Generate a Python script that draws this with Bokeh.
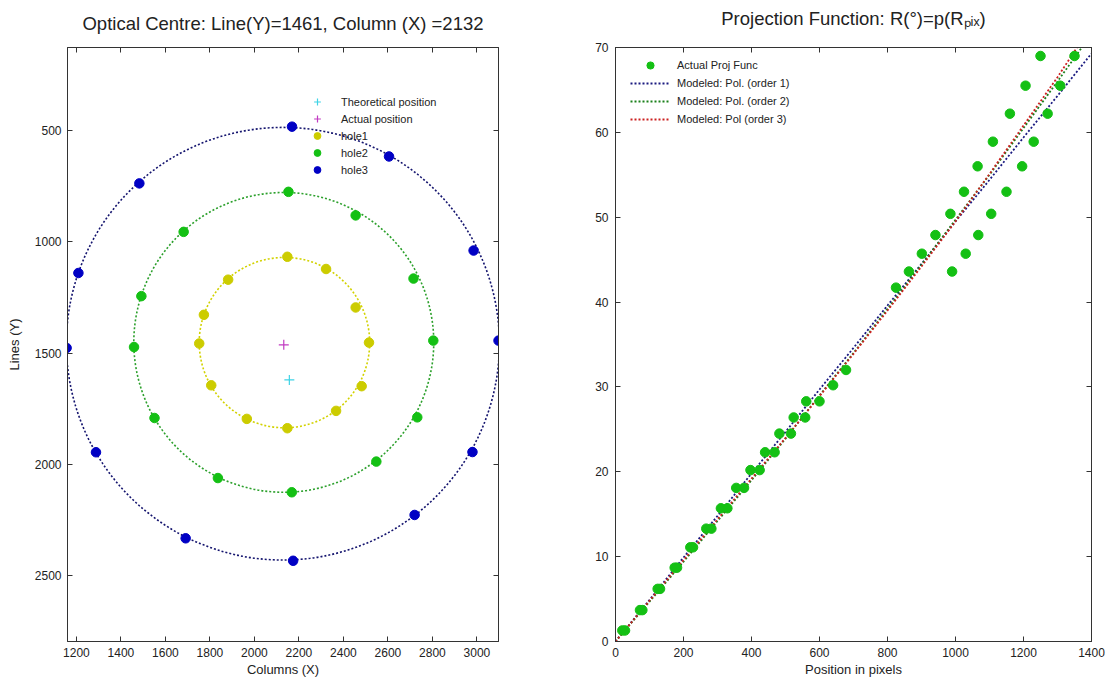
from bokeh.plotting import figure
from bokeh.models import Range1d, LinearAxis, Legend, LegendItem, FixedTicker
from bokeh.layouts import row
from bokeh.embed import file_html
from bokeh.resources import INLINE

FONT = "Liberation Sans"
AX = "#333333"
TXT = "#222222"

# ---------------- left chart data ----------------
left_title = "Optical Centre: Line(Y)=1461, Column (X) =2132"
theo_x = [2157]
theo_y = [1621]
act_x = [2132]
act_y = [1463]
hole1_x = [2148, 2322, 2455, 2515, 2482, 2367, 2148, 1966, 1806, 1752, 1773, 1882]
hole1_y = [1067, 1122, 1295, 1453, 1649, 1760, 1838, 1796, 1645, 1457, 1328, 1170]
hole2_x = [2153, 2455, 2715, 2804, 2732, 2548, 2168, 1836, 1551, 1459, 1492, 1682]
hole2_y = [775, 881, 1165, 1444, 1789, 1988, 2126, 2062, 1792, 1473, 1244, 955]
hole3_x = [2169, 2605, 2985, 3097, 2980, 2720, 2174, 1691, 1288, 1156, 1209, 1483]
hole3_y = [482, 616, 1039, 1444, 1945, 2228, 2434, 2333, 1946, 1477, 1140, 737]
ring_cx = [2135, 2132, 2128]
ring_cy = [1453, 1452, 1458]
ring_r = [383, 674, 973]
left_x_ticks = [1200, 1400, 1600, 1800, 2000, 2200, 2400, 2600, 2800, 3000]
left_y_ticks = [500, 1000, 1500, 2000, 2500]

# ---------------- right chart data ----------------
right_title = "Projection Function: R(\u00b0)=p(R\u209a\u1d62\u2093)"
pix_x = [20, 28, 72, 79, 124, 131, 174, 181, 220, 228, 267, 282, 310, 329, 355, 378,
         397, 424, 440, 468, 482, 516, 524, 558, 561, 600, 640, 678, 825,
         863, 990, 901, 1030, 941, 1067, 985, 1105, 1025, 1150, 1065, 1196,
         1110, 1230, 1160, 1271, 1206, 1308, 1250, 1350]
deg_y = [1.3, 1.3, 3.7, 3.7, 6.2, 6.2, 8.7, 8.7, 11.1, 11.1, 13.3, 13.3, 15.7, 15.7, 18.1, 18.1,
         20.2, 20.2, 22.3, 22.3, 24.5, 24.5, 26.4, 26.4, 28.3, 28.3, 30.2, 32.0, 41.7,
         43.6, 43.6, 45.7, 45.7, 47.9, 47.9, 50.4, 50.4, 53.0, 53.0, 56.0, 56.0,
         58.9, 58.9, 62.2, 62.2, 65.5, 65.5, 69.0, 69.0]
fit_x = [0, 100, 200, 300, 400, 500, 600, 700, 800, 900, 1000, 1100, 1200, 1300, 1400]
order1 = [0, 4.9, 9.9, 14.8, 19.8, 24.7, 29.7, 34.6, 39.6, 44.5, 49.5, 54.4, 59.4, 64.3, 69.3]
order2 = [0, 4.7, 9.4, 14.2, 19.0, 23.9, 29.0, 34.0, 39.2, 44.4, 49.7, 55.0, 60.5, 66.0, 71.6]
order3 = [0, 4.8, 9.6, 14.4, 19.2, 24.0, 28.9, 33.9, 39.0, 44.2, 49.5, 55.1, 60.8, 66.5, 72.6]
right_x_ticks = [0, 200, 400, 600, 800, 1000, 1200, 1400]
right_y_ticks = [0, 10, 20, 30, 40, 50, 60, 70]


def style_axis(ax, ticks, show_labels=True, standoff=6):
    ax.ticker = FixedTicker(ticks=ticks)
    ax.major_tick_in = 5
    ax.major_tick_out = 0
    ax.minor_tick_line_color = None
    ax.axis_line_color = AX
    ax.major_tick_line_color = AX
    ax.major_label_text_font = FONT
    ax.axis_label_text_font = FONT
    ax.axis_label_text_font_style = "normal"
    ax.axis_label_text_font_size = "13px"
    ax.axis_label_text_color = TXT
    if show_labels:
        ax.major_label_text_font_size = "12px"
        ax.major_label_text_color = TXT
        ax.major_label_standoff = standoff
    else:
        ax.major_label_text_font_size = "1px"
        ax.major_label_text_color = None
        ax.major_label_standoff = 0


def title_axis(ticks, text, standoff):
    ax = LinearAxis()
    style_axis(ax, ticks, False)
    ax.axis_label = text
    ax.axis_label_text_font_size = "18.5px"
    ax.axis_label_standoff = standoff
    return ax


def base_fig(width, xr, yr, ml, mr):
    p = figure(width=width, height=680, x_range=xr, y_range=yr, title=None,
               output_backend="svg", toolbar_location=None,
               min_border_left=ml, min_border_right=mr,
               min_border_top=47, min_border_bottom=39)
    p.grid.visible = False
    p.outline_line_color = AX
    p.background_fill_color = "white"
    p.border_fill_color = "white"
    return p


# ================= left figure =================
p1 = base_fig(560, Range1d(1160, 3097), Range1d(2797, 126), 67, 62)

for cx, cy, r, col in zip(ring_cx, ring_cy, ring_r, ["#d2d200", "#2ca02c", "#14146e"]):
    p1.ellipse(x=[cx], y=[cy], width=[2 * r], height=[2 * r], fill_alpha=0,
               line_color=col, line_width=1.6, line_dash="2 2")

r_theo = p1.scatter(theo_x, theo_y, marker="cross", size=10, line_color="#3fd3e6", line_width=1.2)
r_act = p1.scatter(act_x, act_y, marker="cross", size=10, line_color="#c13bc1", line_width=1.2)
r_h1 = p1.scatter(hole1_x, hole1_y, marker="circle", size=9.5, fill_color="#cccc00", line_color="#cccc00")
r_h2 = p1.scatter(hole2_x, hole2_y, marker="circle", size=9.5, fill_color="#14c014", line_color="#14c014")
r_h3 = p1.scatter(hole3_x, hole3_y, marker="circle", size=9.5, fill_color="#0000c4", line_color="#0000c4")

style_axis(p1.xaxis[0], left_x_ticks, True, 6)
p1.xaxis[0].axis_label = "Columns (X)"
p1.xaxis[0].axis_label_standoff = 2
style_axis(p1.yaxis[0], left_y_ticks, True, 6)
p1.yaxis[0].axis_label = "Lines (Y)"
p1.yaxis[0].axis_label_standoff = 10
p1.add_layout(title_axis(left_x_ticks, left_title, 14), "above")
right1 = LinearAxis()
style_axis(right1, left_y_ticks, False)
p1.add_layout(right1, "right")

leg1 = Legend(items=[
    LegendItem(label="Theoretical position", renderers=[r_theo]),
    LegendItem(label="Actual position", renderers=[r_act]),
    LegendItem(label="hole1", renderers=[r_h1]),
    LegendItem(label="hole2", renderers=[r_h2]),
    LegendItem(label="hole3", renderers=[r_h3]),
], location=(240, 463), padding=0, margin=0, spacing=0,
    glyph_width=20, glyph_height=17, label_height=17, label_standoff=14,
    border_line_color=None, background_fill_alpha=0,
    label_text_font=FONT, label_text_font_size="11px", label_text_color=TXT)
p1.add_layout(leg1)

# ================= right figure =================
p2 = base_fig(545, Range1d(0, 1400), Range1d(0, 70), 55, 14)

r_o1 = p2.line(fit_x, order1, line_color="#1a1a80", line_width=1.8, line_dash="2 2")
r_o2 = p2.line(fit_x, order2, line_color="#1a801a", line_width=1.8, line_dash="2 2")
r_o3 = p2.line(fit_x, order3, line_color="#cc2020", line_width=1.8, line_dash="2 2")
r_pts = p2.scatter(pix_x, deg_y, marker="circle", size=9.5, fill_color="#14c014", line_color="#14c014")

style_axis(p2.xaxis[0], right_x_ticks, True, 6)
p2.xaxis[0].axis_label = "Position in pixels"
p2.xaxis[0].axis_label_standoff = 2
style_axis(p2.yaxis[0], right_y_ticks, True, 7)
p2.add_layout(title_axis(right_x_ticks, right_title, 19), "above")
right2 = LinearAxis()
style_axis(right2, right_y_ticks, False)
p2.add_layout(right2, "right")

leg2 = Legend(items=[
    LegendItem(label="Actual Proj Func", renderers=[r_pts]),
    LegendItem(label="Modeled: Pol. (order 1)", renderers=[r_o1]),
    LegendItem(label="Modeled: Pol. (order 2)", renderers=[r_o2]),
    LegendItem(label="Modeled: Pol (order 3)", renderers=[r_o3]),
], location=(15, 513), padding=0, margin=0, spacing=0,
    glyph_width=40, glyph_height=18, label_height=18, label_standoff=7,
    border_line_color=None, background_fill_alpha=0,
    label_text_font=FONT, label_text_font_size="11px", label_text_color=TXT)
p2.add_layout(leg2)

layout = row(p1, p2)
open("out.html", "w").write(file_html(layout, INLINE))
